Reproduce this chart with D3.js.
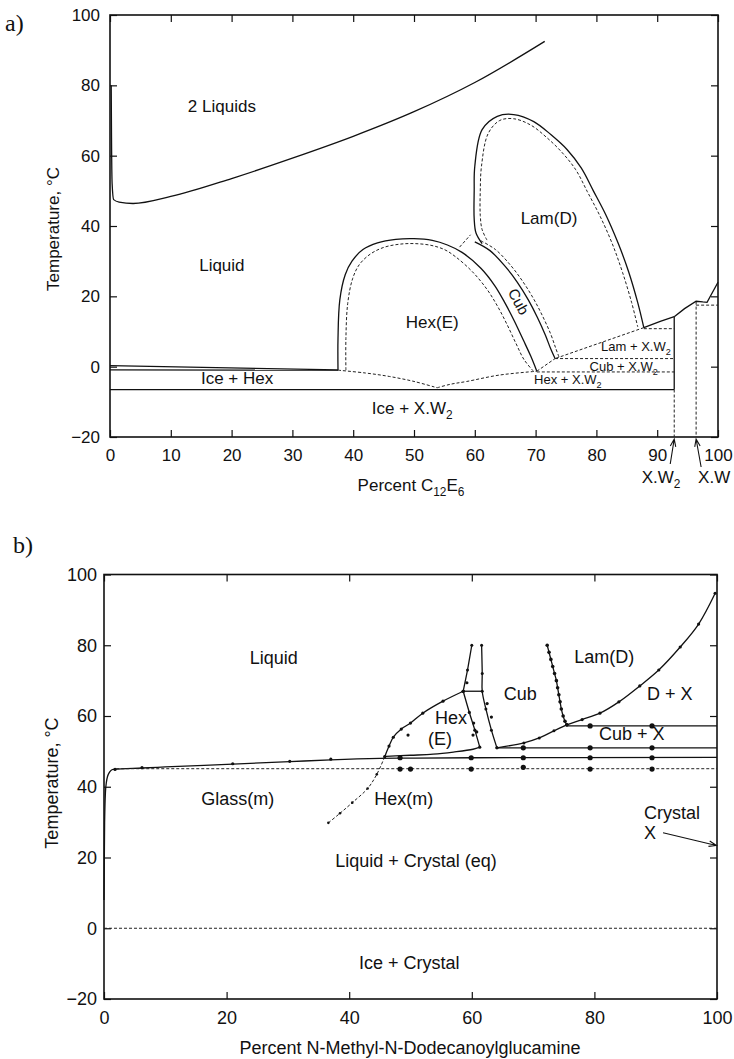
<!DOCTYPE html>
<html>
<head>
<meta charset="utf-8">
<script src="https://cdn.jsdelivr.net/npm/d3@7"></script>
<style>
body { margin: 0; background: #fff; }
svg text { font-family: "Liberation Sans", Arial, Helvetica, sans-serif; fill: #111; }
.ln { fill: none; stroke: #111; stroke-width: 1.3; }
.dash { fill: none; stroke: #222; stroke-width: 1; stroke-dasharray: 3,2; }
</style>
</head>
<body>
<div id="chart"></div>
<script>
// ---------- panel a) C12E6 / water ----------
aXTicks = [0, 10, 20, 30, 40, 50, 60, 70, 80, 90, 100]
aYTicks = [-20, 0, 20, 40, 60, 80, 100]

aTwoLiquid = [[0.2, 80], [0.25, 65], [0.35, 52], [0.6, 47.5], [1.5, 46.8], [3.8, 46.4], [10, 48.4], [20, 53.5], [30, 59.3], [40, 65.5], [50, 72.5], [60, 80.8], [71.5, 92.5]]
aHexOuter = [[37.5, -1], [37.5, 8], [37.8, 19], [38.7, 26.2], [39.8, 30], [41.6, 33.3], [44, 35.2], [47, 36.2], [50, 36.4], [53, 35.9], [55.5, 34.6], [57.9, 32.5], [61, 28], [63.3, 23], [65, 18], [66.5, 13], [68, 7.5], [69.2, 3], [70.2, -1.3]]
aHexInner = [[38.8, -1], [38.8, 8], [39.1, 18], [39.9, 25], [41, 29], [42.8, 32], [45, 33.9], [47.5, 34.8], [50, 35], [52.8, 34.5], [55, 33.3], [56.8, 31.3], [59.6, 27], [62, 22], [63.8, 17], [65.3, 12], [66.8, 6.5], [68.1, 2], [69.6, -1.2]]
aCubRight = [[60, 35.5], [62.5, 33], [65, 28.5], [67, 24], [68.8, 19], [70.3, 14], [71.6, 9], [72.5, 5], [73.2, 2.3]]
aCubRightDash = [[61, 35.8], [63.4, 33.3], [65.9, 28.8], [67.9, 24.2], [69.7, 19.2], [71.2, 14.2], [72.5, 9.2], [73.3, 5.3], [73.9, 2.5]]
aCubTopDash = [[57.5, 34], [59.3, 37.5]]
aLamOuter = [[61.2, 35], [60.2, 38], [59.9, 42], [59.9, 50], [60, 57], [61.2, 67.4], [63.7, 71.2], [66.4, 71.7], [69.7, 69.7], [72.5, 66], [75.2, 61.7], [77.5, 56.5], [79.5, 50], [81.6, 43], [83.6, 35], [85.3, 27], [86.8, 18.2], [87.8, 11.1]]
aLamInner = [[62, 36], [61.2, 39], [60.9, 43], [60.9, 50], [61.1, 57], [62.2, 66.3], [64.1, 70], [66.4, 70.5], [69.2, 68.7], [71.8, 65.2], [74.3, 61], [76.6, 56], [78.5, 49.8], [80.6, 42.8], [82.6, 35], [84.3, 26.8], [85.8, 18.2], [86.8, 11.3]]
aLamBottomDash = [[87.8, 11.1], [73.2, 2.3]]
aHexCubDash = [[70.2, -1.3], [73.2, 2.3]]
aTie11 = [[87.8, 10.8], [92.8, 10.8]]
aTie2 = [[73.2, 2.3], [92.8, 2.3]]
aTieM1 = [[70.2, -1.5], [92.8, -1.5]]
aXW2Liquidus = [[87.8, 11.1], [90.5, 12.9], [92.8, 14.2]]
aXWLiquidus = [[92.8, 14.2], [94.5, 16.5], [96.4, 18.6], [97.5, 18.4], [98.2, 18.3], [100, 24]]
aXW2Solid = [[92.8, 14.2], [92.8, -6.5]]
aXW2Dash = [[92.8, -6.5], [92.8, -20]]
aXWDash = [[96.4, 18.5], [96.4, -20]]
aTie17 = [[96.4, 17.5], [100, 17.5]]
aFreezeTop = [[0, 0.3], [37.5, -0.9]]
aFreezeBot = [[0, -0.9], [37.5, -1]]
aEutDashL = [[37.5, -1], [42, -1.8], [46, -2.8], [50, -4.2], [53.8, -6]]
aEutDashR = [[53.8, -6], [56, -5], [58.7, -4.2], [64, -2.4], [70.2, -1.3]]
aIceLine = [[0, -6.5], [92.8, -6.5]]

// ---------- panel b) N-methyl-N-dodecanoylglucamine / water ----------
bXTicks = [0, 20, 40, 60, 80, 100]
bYTicks = [-20, 0, 20, 40, 60, 80, 100]

bLiquidLine = [[0, 8], [0.1, 30], [0.3, 40], [0.7, 43.5], [1.5, 44.9], [6.2, 45.3], [10, 45.6], [21, 46.4], [30.3, 47.1], [37, 47.6], [45, 48], [50, 48.1], [60, 48.2], [100, 48.3]]
bLiquidDots = [[1.8, 44.9], [6.2, 45.4], [21, 46.5], [30.3, 47.2], [37, 47.8]]
bHexMLower = [[36.6, 29.8], [38.5, 32.5], [40.5, 35.5], [43, 39.5], [44.5, 43.5], [45.8, 48.5]]
bHexMUpper = [[45.8, 48.5], [46.5, 51.5], [47.2, 54], [48.5, 56.3], [50, 58], [52, 60.8], [55.3, 64.2], [58.6, 67]]
bHexBottom = [[46, 48.6], [50, 48.9], [53.7, 49.2], [57, 49.8], [60.2, 50.6], [61.3, 51.2]]
bHexRight = [[58.6, 67], [59.6, 61], [60.5, 56], [61.3, 51.2]]
bVertLeft = [[60, 80], [59.3, 73], [58.6, 67]]
bCubLeft = [[61.6, 80], [61.7, 72], [61.7, 67], [62.3, 62], [63.2, 56], [64.1, 51]]
bTie67 = [[58.6, 67], [61.7, 67]]
bCubBottom = [[64.1, 51], [68.5, 52.4], [71, 53.8], [73.4, 55.8], [75.5, 57.5]]
bLamLeft = [[72.3, 80], [72.6, 78], [72.9, 76], [73.2, 74], [73.5, 72], [73.8, 70], [74, 68], [74.2, 66], [74.4, 64], [74.6, 62], [74.9, 60], [75.2, 58.5], [75.5, 57.5]]
bDXLine = [[75.5, 57.5], [78, 59], [80.9, 60.8], [84, 64], [87.4, 68.5], [90.5, 73], [94, 79.5], [97, 86], [99.7, 94.7]]
bTie57 = [[75.5, 57.2], [100, 57.2]]
bTie51 = [[64.1, 51], [100, 51]]
bTie45 = [[2, 45.1], [100, 45.1]]
bZero = [[0, 0], [100, 0]]
bBigDots = [[48.3, 48.2], [48.3, 45], [50, 45], [59.9, 48.2], [59.9, 45], [68.4, 51], [68.4, 48.2], [68.4, 45.5],
  [79.3, 57.2], [79.3, 51], [79.3, 48.2], [79.3, 45], [89.4, 57.2], [89.4, 51], [89.4, 48.2], [89.4, 45]]
bLooseDots = [[49.6, 54.6], [60.2, 54.6], [59.2, 69.4], [63.2, 59.7], [60.3, 58], [60.8, 55.5], [62.5, 63.5]]

width = 734
height = 1059
FONT = '"Liberation Sans", Arial, Helvetica, sans-serif'

svg = d3.select("#chart").append("svg:svg")
  .attr("width", width)
  .attr("height", height)

xa = d3.scaleLinear().domain([0, 100]).range([110, 718])
ya = d3.scaleLinear().domain([-20, 100]).range([437, 15])
xb = d3.scaleLinear().domain([0, 100]).range([104, 717])
yb = d3.scaleLinear().domain([-20, 100]).range([999, 574.5])

drawFrame = function(x, y, xt, yt, fs, padX, padY) {
  var x0 = x.range()[0], x1 = x.range()[1], y0 = y.range()[0], y1 = y.range()[1]
  var axes = [
    [d3.axisBottom(x).tickValues(xt).tickPadding(padX), "translate(0," + y0 + ")"],
    [d3.axisTop(x).tickValues(xt).tickFormat(""), "translate(0," + y1 + ")"],
    [d3.axisLeft(y).tickValues(yt).tickPadding(padY), "translate(" + x0 + ",0)"],
    [d3.axisRight(y).tickValues(yt).tickFormat(""), "translate(" + x1 + ",0)"]
  ]
  axes.forEach(function(a) {
    var g = svg.append("g").attr("transform", a[1])
      .call(a[0].tickSizeInner(-7).tickSizeOuter(0))
    g.attr("font-size", fs).attr("font-family", FONT).style("color", "#111")
    g.select(".domain").remove()
    g.selectAll(".tick line").attr("stroke-width", 1.2)
    // blank labels of the mirrored axes are not needed
    g.selectAll(".tick text").filter(function() { return this.textContent === "" }).remove()
  })
  svg.append("rect")
    .attr("x", x0).attr("y", y1)
    .attr("width", x1 - x0).attr("height", y0 - y1)
    .attr("fill", "none").attr("stroke", "#111").attr("stroke-width", 1.6)
}

plot = function(x, y, pts, cls, curve) {
  return svg.append("path").datum(pts)
    .attr("class", cls)
    .attr("d", d3.line().x(function(d) { return x(d[0]) }).y(function(d) { return y(d[1]) }).curve(curve || d3.curveLinear))
}

dots = function(x, y, pts, r) {
  svg.append("g").selectAll("circle").data(pts).enter()
    .append("circle")
    .attr("cx", function(d) { return x(d[0]) })
    .attr("cy", function(d) { return y(d[1]) })
    .attr("r", r)
    .attr("fill", "#111")
}

// text with optional subscripts: parts = [["X.W"], ["2", "sub"]]
label = function(px, py, parts, fs, anchor, rot) {
  var t = svg.append("text")
    .attr("transform", "translate(" + px + "," + py + ")" + (rot ? " rotate(" + rot + ")" : ""))
    .attr("text-anchor", anchor || "middle")
    .attr("dy", "0.35em")
    .attr("font-size", fs)
  var low = false
  parts.forEach(function(p) {
    if (p[1] === "sub") {
      t.append("tspan").attr("dy", fs * 0.3).attr("font-size", fs * 0.7).text(p[0])
      low = true
    } else {
      var s = t.append("tspan").text(p[0])
      if (low) s.attr("dy", -fs * 0.3)
      low = false
    }
  })
  return t
}

arrow = function(x1, y1, x2, y2) {
  var ang = Math.atan2(y2 - y1, x2 - x1), L = 8, w = 0.35
  svg.append("path")
    .attr("d", "M" + x1 + "," + y1 + "L" + x2 + "," + y2 +
      "M" + (x2 - L * Math.cos(ang - w)) + "," + (y2 - L * Math.sin(ang - w)) + "L" + x2 + "," + y2 +
      "L" + (x2 - L * Math.cos(ang + w)) + "," + (y2 - L * Math.sin(ang + w)))
    .attr("fill", "none").attr("stroke", "#111").attr("stroke-width", 1.1)
}

smooth = d3.curveCatmullRom.alpha(0.5)

// ----- panel a -----
drawFrame(xa, ya, aXTicks, aYTicks, 17, 12, 10)

plot(xa, ya, aTwoLiquid, "ln", d3.curveMonotoneX)
plot(xa, ya, aHexOuter, "ln", smooth)
plot(xa, ya, aHexInner, "dash", smooth)
plot(xa, ya, aCubRight, "ln", smooth)
plot(xa, ya, aCubRightDash, "dash", smooth)
plot(xa, ya, aCubTopDash, "dash")
plot(xa, ya, aLamOuter, "ln", smooth)
plot(xa, ya, aLamInner, "dash", smooth)
plot(xa, ya, aLamBottomDash, "dash")
plot(xa, ya, aHexCubDash, "dash")
;[aTie11, aTie2, aTieM1, aXW2Dash, aXWDash, aTie17].forEach(function(p) { plot(xa, ya, p, "dash") })
plot(xa, ya, aXW2Liquidus, "ln")
plot(xa, ya, aXWLiquidus, "ln")
plot(xa, ya, aXW2Solid, "ln")
plot(xa, ya, aFreezeTop, "ln")
plot(xa, ya, aFreezeBot, "ln")
plot(xa, ya, aEutDashL, "dash", smooth)
plot(xa, ya, aEutDashR, "dash", smooth)
plot(xa, ya, aIceLine, "ln")

label(xa(18.4), ya(74), [["2 Liquids"]], 17)
label(xa(18.4), ya(29), [["Liquid"]], 17)
label(xa(20.9), ya(-3.1), [["Ice + Hex"]], 17)
label(xa(49.7), ya(-11.7), [["Ice + X.W"], ["2", "sub"]], 17)
label(xa(53), ya(12.8), [["Hex(E)"]], 17)
label(xa(67.2), ya(18.5), [["Cub"]], 15, "middle", 62)
label(xa(72.2), ya(42.4), [["Lam(D)"]], 17)
label(xa(86.5), ya(5.7), [["Lam + X.W"], ["2", "sub"]], 13)
label(xa(84.5), ya(0.1), [["Cub + X.W"], ["2", "sub"]], 13)
label(xa(75.3), ya(-3.7), [["Hex + X.W"], ["2", "sub"]], 13)

// composition markers below the axis
arrow(xa(92.8) - 4, ya(-20) + 27, xa(92.8), ya(-20) + 2)
arrow(xa(96.4) + 5, ya(-20) + 30, xa(96.4), ya(-20) + 2)
label(661, ya(-20) + 40, [["X.W"], ["2", "sub"]], 17)
label(xa(96.4) + 2, ya(-20) + 40, [["X.W"]], 17, "start")

label(411, 485, [["Percent C"], ["12", "sub"], ["E"], ["6", "sub"]], 17)
svg.append("text")
  .attr("transform", "translate(53,229) rotate(-90)")
  .attr("text-anchor", "middle").attr("dy", "0.35em").attr("font-size", 17)
  .text("Temperature, \u00b0C")
svg.append("text").attr("x", 5).attr("y", 31)
  .attr("font-size", 24).style("font-family", '"Liberation Serif", "Times New Roman", serif')
  .text("a)")

// ----- panel b -----
drawFrame(xb, yb, bXTicks, bYTicks, 18, 12, 7)

plot(xb, yb, bLiquidLine, "ln", d3.curveMonotoneX)
plot(xb, yb, bHexMLower, "dash", smooth)
plot(xb, yb, bHexMUpper, "ln", smooth)
plot(xb, yb, bHexBottom, "ln", smooth)
plot(xb, yb, bHexRight, "ln", smooth)
plot(xb, yb, bVertLeft, "ln")
plot(xb, yb, bCubLeft, "ln", smooth)
plot(xb, yb, bTie67, "ln")
plot(xb, yb, bCubBottom, "ln", smooth)
plot(xb, yb, bLamLeft, "ln", smooth)
plot(xb, yb, bDXLine, "ln", smooth)
plot(xb, yb, bTie57, "ln")
plot(xb, yb, bTie51, "ln")
plot(xb, yb, bTie45, "dash")
plot(xb, yb, bZero, "dash")

dots(xb, yb, bLiquidDots, 1.6)
dots(xb, yb, bHexMLower, 1.3)
dots(xb, yb, bHexMUpper, 1.6)
dots(xb, yb, bHexRight, 1.6)
dots(xb, yb, bVertLeft, 1.5)
dots(xb, yb, bCubLeft, 1.5)
dots(xb, yb, bCubBottom, 1.5)
dots(xb, yb, bLamLeft, 1.8)
dots(xb, yb, bDXLine, 1.6)
dots(xb, yb, bBigDots, 2.6)
dots(xb, yb, bLooseDots, 1.6)

label(xb(27.7), yb(76.4), [["Liquid"]], 18)
label(xb(21.8), yb(36.5), [["Glass(m)"]], 18)
label(xb(48.9), yb(36.5), [["Hex(m)"]], 18)
label(xb(50.9), yb(19), [["Liquid + Crystal (eq)"]], 18)
label(xb(49.8), yb(-9.8), [["Ice + Crystal"]], 18)
label(xb(88.1), yb(32.6), [["Crystal"]], 18, "start")
label(xb(88.1), yb(27), [["X"]], 18, "start")
label(xb(56.6), yb(59.4), [["Hex"]], 18)
label(xb(54.8), yb(53.5), [["(E)"]], 18)
label(xb(67.9), yb(66.2), [["Cub"]], 18)
label(xb(81.6), yb(76.9), [["Lam(D)"]], 18)
label(xb(92.3), yb(66.2), [["D + X"]], 18)
label(xb(86.1), yb(54.9), [["Cub + X"]], 18)
arrow(xb(91.2), yb(27), xb(99.9), yb(23.4))

label(410, 1048, [["Percent N-Methyl-N-Dodecanoylglucamine"]], 18)
svg.append("text")
  .attr("transform", "translate(52,783) rotate(-90)")
  .attr("text-anchor", "middle").attr("dy", "0.35em").attr("font-size", 18)
  .text("Temperature, \u00b0C")
svg.append("text").attr("x", 13).attr("y", 553)
  .attr("font-size", 24).style("font-family", '"Liberation Serif", "Times New Roman", serif')
  .text("b)")
</script>
</body>
</html>
